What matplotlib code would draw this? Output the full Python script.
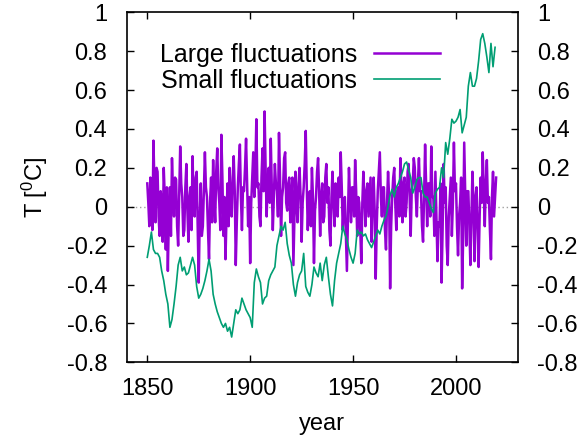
import numpy as np
import matplotlib.pyplot as plt

plt.rcParams['font.family'] = ['Liberation Sans', 'DejaVu Sans']

# large fluctuations (purple), two values per year from 1850
grandes = [
    0.12, 0.02, -0.10, 0.15, 0.05, -0.12, 0.34, 0.10, -0.08, 0.20, 0.18, -0.05, -0.15, 0.08, 0.02, -0.18, 0.20, 0.05, -0.22, 0.10,
    -0.33, -0.05, 0.10, -0.15, 0.25, 0.08, -0.05, 0.15, 0.14, -0.10, -0.20, 0.05, 0.31, 0.12, 0.05, -0.15, -0.12, 0.10, 0.22, -0.02,
    -0.18, 0.05, 0.10, -0.12, 0.26, 0.02, -0.05, 0.15, 0.18, -0.10, -0.39, -0.05, 0.12, -0.15, -0.10, 0.08, 0.28, 0.10, 0.05, -0.12,
    -0.27, 0.02, 0.15, -0.08, 0.24, 0.05, -0.08, 0.18, 0.30, 0.10, 0.02, -0.12, 0.37, 0.15, -0.15, 0.05, -0.27, -0.05, 0.12, -0.10,
    0.20, 0.02, -0.05, 0.15, 0.26, 0.08, -0.30, -0.08, 0.10, 0.22, 0.32, 0.05, -0.12, 0.10, 0.08, 0.20, 0.35, 0.12, -0.10, 0.05,
    -0.29, 0.02, 0.15, 0.28, 0.05, 0.18, 0.45, 0.10, 0.12, -0.05, -0.10, 0.15, 0.30, 0.08, 0.49, 0.20, -0.05, 0.12, 0.20, 0.02,
    0.35, 0.10, -0.12, 0.05, 0.22, 0.12, 0.08, -0.05, 0.38, 0.15, -0.15, 0.05, 0.10, 0.25, 0.28, 0.02, -0.02, 0.12, 0.15, -0.08,
    0.05, 0.15, -0.30, -0.05, 0.18, 0.02, -0.08, 0.12, 0.20, 0.05, -0.18, 0.02, 0.10, 0.22, 0.39, 0.10, -0.12, 0.05, 0.08, -0.10,
    0.20, 0.05, -0.29, -0.02, 0.05, 0.18, 0.25, 0.08, -0.15, 0.05, 0.12, -0.08, -0.05, 0.15, 0.22, 0.02, 0.10, -0.12, -0.20, 0.05,
    0.18, 0.02, -0.10, 0.12, 0.08, -0.05, 0.15, 0.05, 0.28, 0.10, -0.12, 0.02, 0.05, -0.15, -0.33, -0.05, 0.20, 0.05, -0.08, 0.10,
    0.10, -0.05, 0.24, 0.08, -0.15, 0.05, 0.02, -0.12, -0.29, 0.02, 0.18, 0.05, -0.10, 0.08, 0.12, -0.05, 0.05, 0.15, -0.18, 0.02,
    0.15, -0.02, -0.37, -0.10, 0.08, 0.18, 0.28, 0.05, -0.05, 0.10, 0.10, -0.12, -0.22, 0.02, 0.18, 0.05, -0.42, -0.10, 0.05, 0.15,
    0.20, 0.02, -0.12, 0.08, 0.10, -0.05, 0.25, 0.10, -0.08, 0.12, 0.15, -0.05, 0.02, 0.18, 0.22, 0.05, -0.15, 0.08, 0.12, 0.25,
    0.20, 0.05, -0.05, 0.12, 0.25, 0.08, 0.08, -0.10, -0.18, 0.05, 0.32, 0.10, -0.10, 0.12, 0.12, -0.05, 0.31, 0.05, 0.05, -0.15,
    0.18, -0.05, -0.28, -0.08, -0.10, 0.12, -0.39, -0.12, 0.22, 0.02, 0.10, -0.20, -0.30, -0.05, 0.05, 0.15, -0.15, 0.02, 0.33, 0.08,
    0.12, -0.10, -0.25, -0.05, 0.02, 0.15, -0.42, -0.15, 0.33, 0.05, -0.20, 0.08, 0.08, -0.10, -0.30, -0.05, 0.18, 0.02, -0.28, 0.05,
    0.10, -0.12, -0.31, -0.05, 0.15, 0.02, 0.28, 0.08, -0.10, 0.12, 0.24, 0.02, 0.05, -0.12, -0.27, 0.05, 0.18, -0.05, 0.05, 0.15,
]
anos_g = 1850 + 0.5 * np.arange(len(grandes))

# small fluctuations (green), one value per year from 1850
pequenas = [
    -0.26, -0.20, -0.13, -0.22, -0.24, -0.24, -0.26, -0.33, -0.38, -0.45,
    -0.50, -0.62, -0.58, -0.50, -0.41, -0.30, -0.26, -0.33, -0.31, -0.35,
    -0.34, -0.30, -0.26, -0.30, -0.41, -0.47, -0.45, -0.42, -0.38, -0.33,
    -0.27, -0.33, -0.45, -0.50, -0.54, -0.57, -0.60, -0.62, -0.60, -0.64,
    -0.62, -0.67, -0.60, -0.53, -0.55, -0.53, -0.47, -0.50, -0.53, -0.55,
    -0.57, -0.62, -0.39, -0.32, -0.36, -0.39, -0.50, -0.47, -0.46, -0.38,
    -0.35, -0.33, -0.31, -0.20, -0.15, -0.10, -0.12, -0.08, -0.19, -0.25,
    -0.29, -0.40, -0.46, -0.39, -0.35, -0.33, -0.24, -0.41, -0.44, -0.46,
    -0.40, -0.31, -0.34, -0.36, -0.29, -0.38, -0.30, -0.26, -0.36, -0.45,
    -0.51, -0.38, -0.29, -0.24, -0.19, -0.10, -0.14, -0.17, -0.22, -0.26,
    -0.29, -0.24, -0.12, -0.14, -0.13, -0.15, -0.14, -0.17, -0.19, -0.21,
    -0.18, -0.15, -0.12, -0.14, -0.10, -0.07, -0.05, 0.00, 0.06, 0.09,
    0.05, 0.10, 0.12, 0.15, 0.18, 0.22, 0.23, 0.19, 0.15, 0.07,
    0.10, 0.14, 0.15, 0.15, 0.07, 0.05, 0.05, 0.02, -0.01, -0.03,
    0.07, 0.09, 0.10, 0.20, 0.15, 0.33, 0.27, 0.35, 0.45, 0.43,
    0.44, 0.46, 0.50, 0.38, 0.42, 0.46, 0.62, 0.69, 0.62, 0.62,
    0.66, 0.75, 0.86, 0.89, 0.84, 0.77, 0.69, 0.84, 0.72, 0.82,
]
anos_p = 1850 + np.arange(len(pequenas))

roxo = '#9400d3'
verde = '#009e73'

fig = plt.figure(figsize=(5.78, 4.42), dpi=100)
ax = fig.add_axes([0.2192, 0.1803, 0.6765, 0.7919])

ax.axhline(0, color='#a0a0a0', linestyle=(0, (1, 2)), linewidth=1.0, zorder=0)
ax.plot(anos_g, grandes, color=roxo, linewidth=1.8, label='Large fluctuations')
ax.plot(anos_p, pequenas, color=verde, linewidth=1.2, label='Small fluctuations')

ax.set_xlim(1840, 2030)
ax.set_ylim(-0.8, 1.0)
ax.set_xticks([1850, 1900, 1950, 2000])
yt = np.round(np.arange(-0.8, 1.01, 0.2), 1)
ax.set_yticks(yt)
ax.set_yticklabels(['0' if v == 0 else f'{v:g}' for v in yt])

ax.tick_params(axis='both', direction='in', length=5, width=1.0, labelsize=17,
               top=True, right=True, labelright=True)
ax.tick_params(axis='y', pad=14)
ax.tick_params(axis='x', pad=11)
for s in ax.spines.values():
    s.set_linewidth(1.2)

ax.set_xlabel('year', fontsize=17, labelpad=10)
ax.set_ylabel(r'T [$\mathregular{^0}$C]', fontsize=17, labelpad=12)

ax.legend(loc='upper left', bbox_to_anchor=(0.085, 0.913), frameon=False,
          markerfirst=False, fontsize=18, handlelength=2.64, handletextpad=0.68,
          labelspacing=0.1, borderaxespad=0, borderpad=0)

fig.savefig('out.png', dpi=100)
